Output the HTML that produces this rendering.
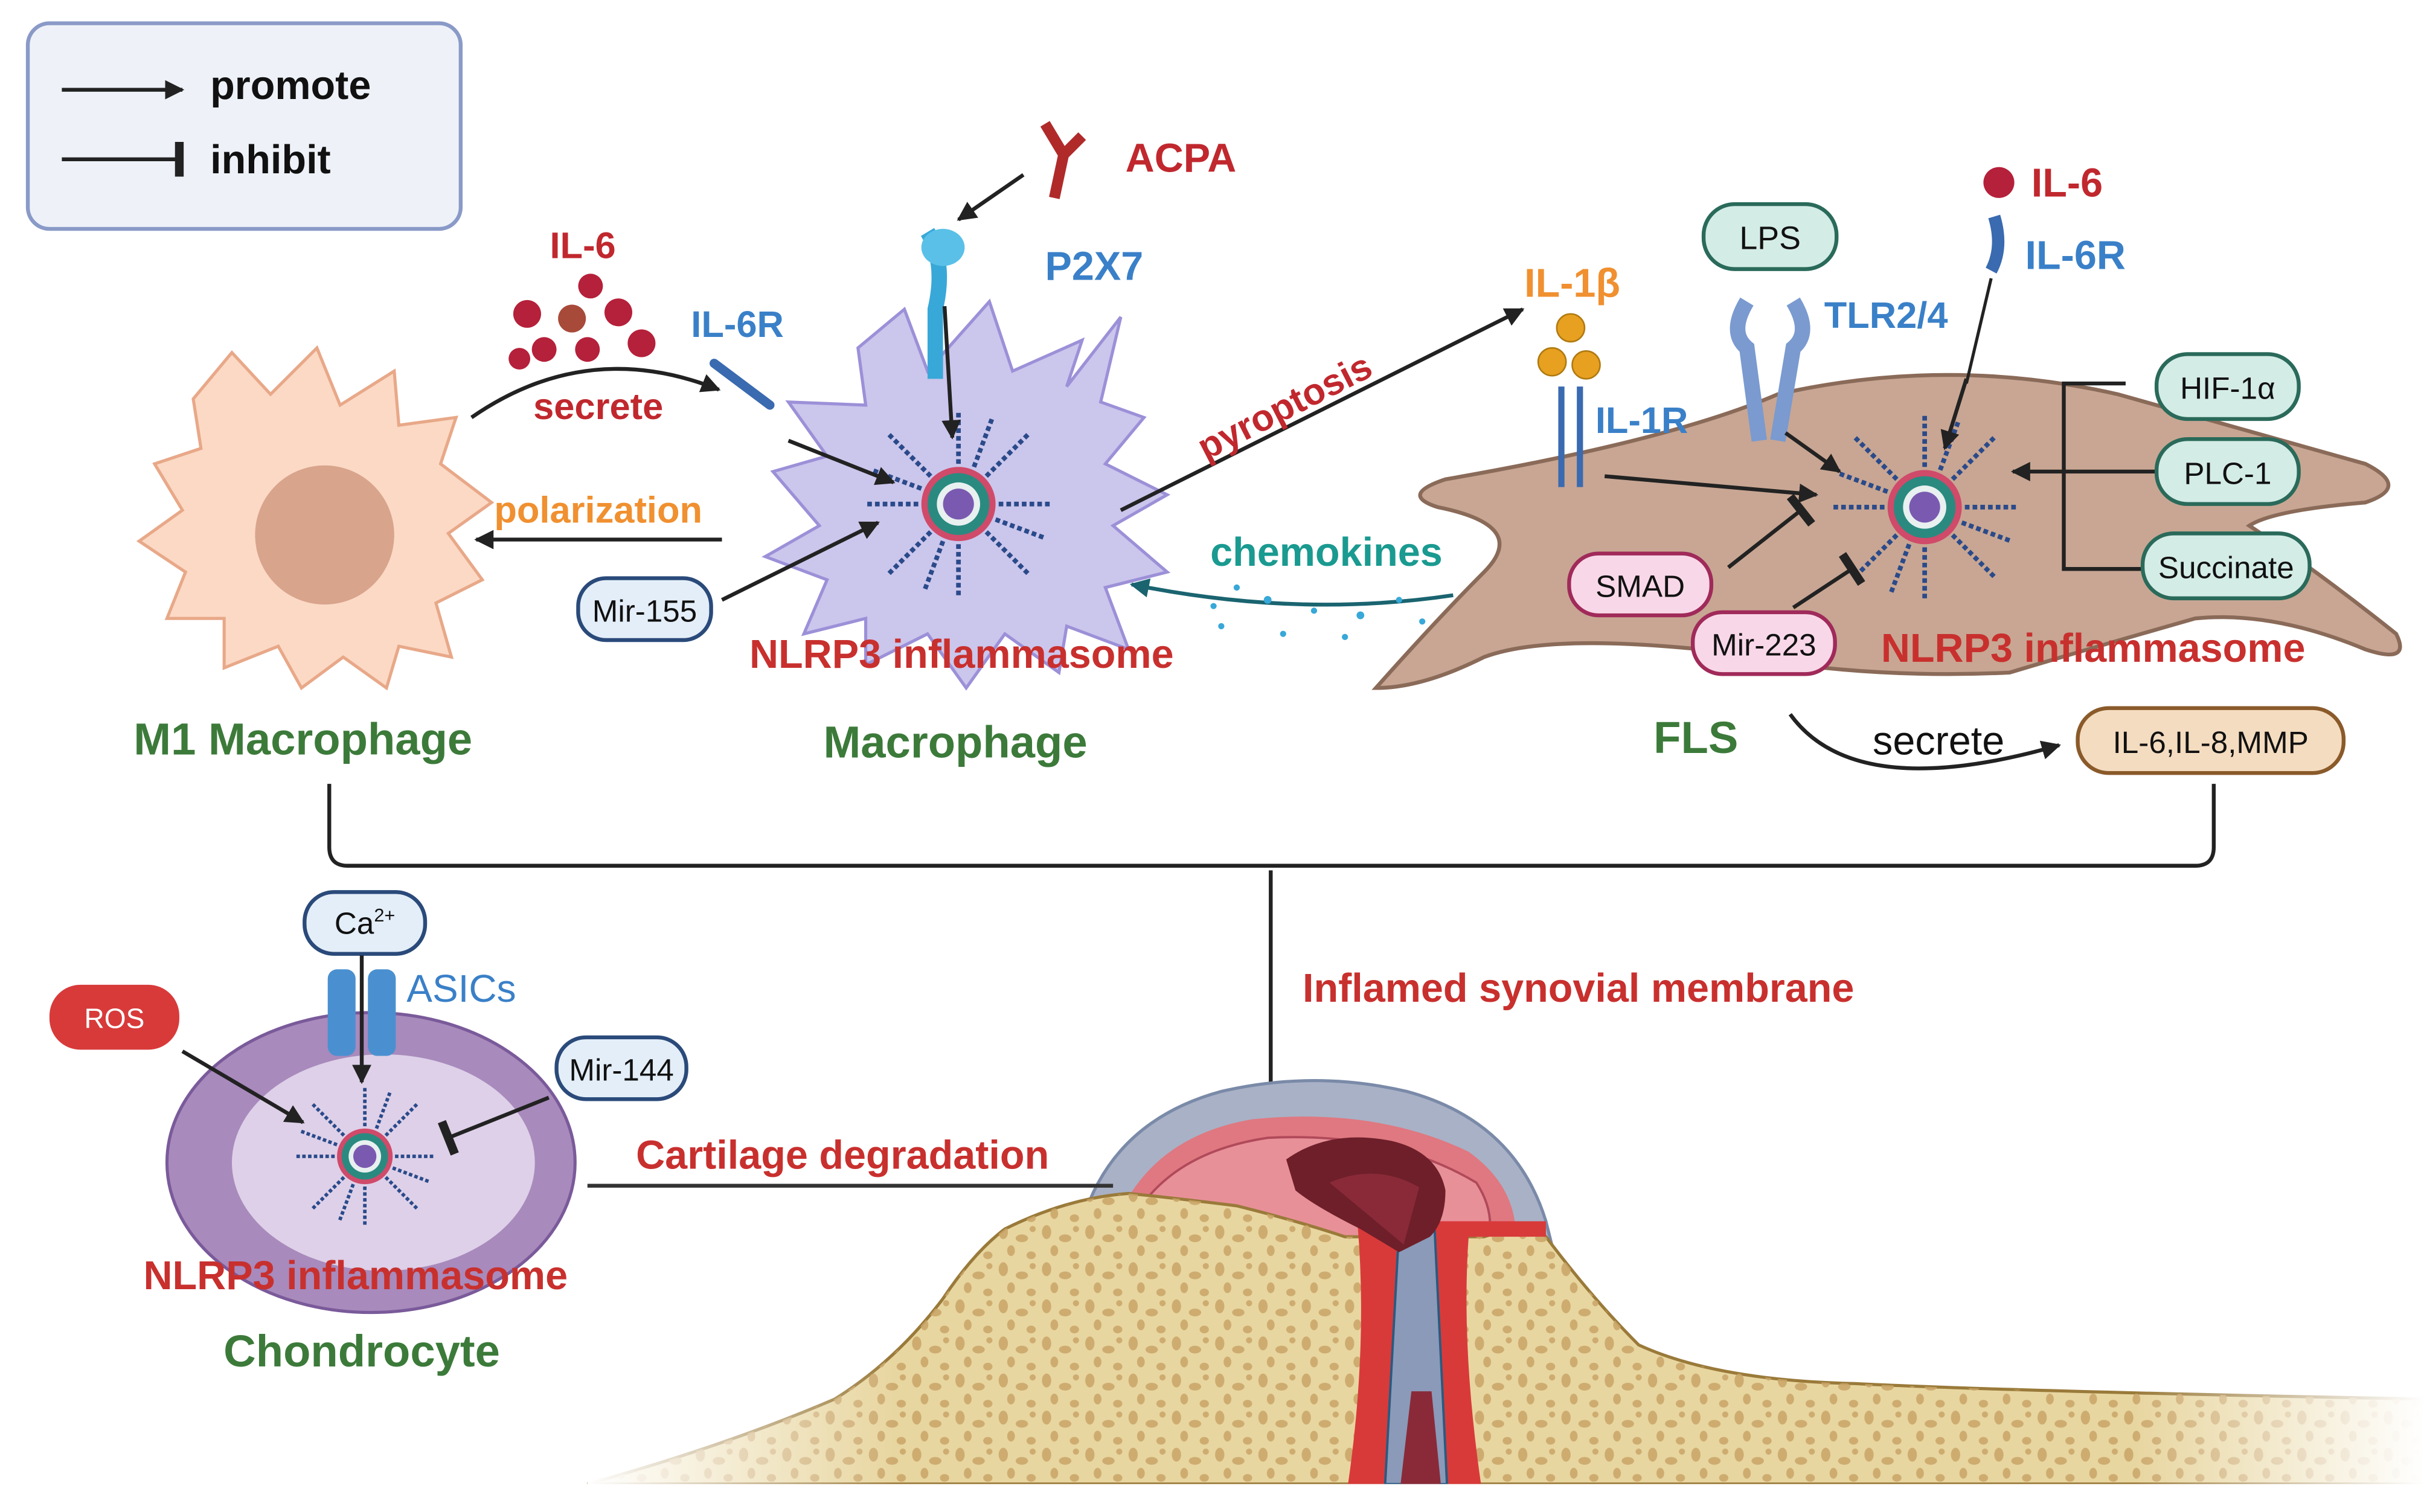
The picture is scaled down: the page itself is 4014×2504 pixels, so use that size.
<!DOCTYPE html>
<html><head><meta charset="utf-8"><style>
html,body{margin:0;padding:0;background:#fff}
svg{display:block}
text{font-family:"Liberation Sans",sans-serif;font-weight:bold}
</style></head><body>
<svg width="4014" height="2504" viewBox="0 0 1568 978" xmlns="http://www.w3.org/2000/svg">
<defs>
<marker id="ar" viewBox="0 0 10 10" refX="9" refY="5" markerWidth="5" markerHeight="5" orient="auto"><path d="M0,0L10,5L0,10z" fill="#222"/></marker>
<marker id="art" viewBox="0 0 10 10" refX="9" refY="5" markerWidth="5" markerHeight="5" orient="auto"><path d="M0,0L10,5L0,10z" fill="#1a6470"/></marker>
<marker id="inh" viewBox="0 0 4 12" refX="2" refY="6" markerWidth="3" markerHeight="9" orient="auto"><path d="M2,0L2,12" stroke="#222" stroke-width="3"/></marker>
<pattern id="pores" width="28" height="24" patternUnits="userSpaceOnUse">
<ellipse cx="5" cy="5" rx="3" ry="4.5" fill="#c9a468"/><ellipse cx="17" cy="9" rx="4" ry="2.5" fill="#c9a468"/><ellipse cx="10" cy="17" rx="2.5" ry="3.5" fill="#c9a468"/><ellipse cx="23" cy="20" rx="3" ry="2.5" fill="#c9a468"/><ellipse cx="24" cy="3" rx="2" ry="2" fill="#c9a468"/>
</pattern>
<linearGradient id="fadeR" x1="0" x2="1" y1="0" y2="0"><stop offset="0" stop-color="#fff" stop-opacity="0"/><stop offset="1" stop-color="#fff" stop-opacity="1"/></linearGradient>
<linearGradient id="fadeL" x1="0" x2="1" y1="0" y2="0"><stop offset="0" stop-color="#fff" stop-opacity="1"/><stop offset="1" stop-color="#fff" stop-opacity="0"/></linearGradient>
<g id="infl">
<circle r="22" fill="#2a8a80" stroke="#d04a6a" stroke-width="4"/>
<circle r="14" fill="#e8f0f0"/>
<circle r="10" fill="#7a5ab0"/>
<g stroke="#2a4a8a" stroke-width="3" stroke-dasharray="3 2">
<path d="M0,-26L0,-60M0,26L0,60M-26,0L-60,0M26,0L60,0M18,18L45,45M-18,18L-45,45M18,-18L45,-45M-18,-18L-45,-45M10,-24L22,-56M-10,24L-22,56M24,10L56,22M-24,-10L-56,-22"/>
</g>
</g>
</defs>
<!-- legend -->
<rect x="18" y="15" width="280" height="133" rx="14" fill="#eef2f8" stroke="#8a9ac8" stroke-width="2.5"/>
<line x1="40" y1="58" x2="118" y2="58" stroke="#222" stroke-width="2.5" marker-end="url(#ar)"/>
<line x1="40" y1="103" x2="116" y2="103" stroke="#222" stroke-width="2.5" marker-end="url(#inh)"/>
<text x="136" y="64" font-size="26" fill="#111">promote</text>
<text x="136" y="112" font-size="26" fill="#111">inhibit</text>

<!-- M1 macrophage -->
<path d="M150,228 L175,255 L205,225 L220,262 L255,240 L258,275 L295,270 L285,300 L318,325 L290,345 L312,375 L282,390 L292,425 L258,418 L250,445 L222,425 L195,445 L180,418 L145,432 L145,400 L108,400 L120,370 L90,350 L118,330 L100,300 L130,290 L125,258 Z" fill="#fbd9c5" stroke="#e8a888" stroke-width="2"/>
<circle cx="210" cy="346" r="45" fill="#d9a48c"/>
<text x="196" y="488" font-size="29" fill="#3c7a3a" text-anchor="middle">M1 Macrophage</text>

<!-- IL-6 secrete -->
<text x="377" y="167" font-size="24" fill="#c0282e" text-anchor="middle">IL-6</text>
<g fill="#b5203a"><circle cx="341" cy="203" r="9"/><circle cx="370" cy="206" r="9" fill="#a84a3a"/><circle cx="400" cy="202" r="9"/><circle cx="382" cy="185" r="8"/><circle cx="352" cy="226" r="8"/><circle cx="380" cy="226" r="8"/><circle cx="415" cy="222" r="9"/><circle cx="336" cy="232" r="7"/></g>
<path d="M305,270 Q380,218 465,252" fill="none" stroke="#222" stroke-width="2.5" marker-end="url(#ar)"/>
<text x="387" y="271" font-size="24" fill="#c0282e" text-anchor="middle">secrete</text>
<text x="447" y="218" font-size="24" fill="#3a80c8">IL-6R</text>
<path d="M462,235 L498,262" stroke="#3a6ab0" stroke-width="6" stroke-linecap="round"/>
<line x1="467" y1="349" x2="308" y2="349" stroke="#222" stroke-width="2.5" marker-end="url(#ar)"/>
<text x="387" y="338" font-size="24" fill="#f09030" text-anchor="middle">polarization</text>

<!-- Macrophage -->
<path d="M585,200 L600,240 L640,195 L655,240 L700,220 L690,250 L725,205 L712,260 L740,270 L715,300 L755,320 L720,340 L755,370 L715,380 L730,420 L690,405 L685,435 L650,410 L625,445 L600,410 L560,430 L560,400 L520,410 L535,375 L495,360 L530,340 L500,305 L535,295 L510,260 L560,262 L555,225 Z" fill="#cbc6ec" stroke="#9c90d8" stroke-width="2"/>
<use href="#infl" x="620" y="326"/>
<text x="622" y="432" font-size="26" fill="#c8302e" text-anchor="middle">NLRP3 inflammasome</text>
<text x="618" y="490" font-size="29" fill="#3c7a3a" text-anchor="middle">Macrophage</text>
<path d="M600,150 Q612,170 605,200 L605,245" stroke="#38a8d8" stroke-width="10" fill="none"/>
<ellipse cx="610" cy="160" rx="14" ry="12" fill="#5ac0e8"/>
<text x="676" y="181" font-size="26" fill="#3a80c8">P2X7</text>
<path d="M676,80 L688,100 L682,128 M700,88 L688,100" stroke="#b02a2a" stroke-width="7" fill="none"/>
<text x="728" y="111" font-size="26" fill="#c0282e">ACPA</text>
<line x1="662" y1="113" x2="620" y2="142" stroke="#222" stroke-width="2.5" marker-end="url(#ar)"/>
<line x1="611" y1="198" x2="616" y2="283" stroke="#222" stroke-width="2.5" marker-end="url(#ar)"/>
<line x1="510" y1="285" x2="578" y2="312" stroke="#222" stroke-width="2.5" marker-end="url(#ar)"/>
<rect x="374" y="374" width="86" height="40" rx="18" fill="#e4eef8" stroke="#2a4a7a" stroke-width="2.5"/>
<text x="417" y="402" font-size="20" fill="#111" text-anchor="middle" style="font-weight:normal">Mir-155</text>
<line x1="467" y1="388" x2="568" y2="338" stroke="#222" stroke-width="2.5" marker-end="url(#ar)"/>

<!-- pyroptosis -->
<line x1="725" y1="330" x2="985" y2="200" stroke="#222" stroke-width="2.5" marker-end="url(#ar)"/>
<text x="0" y="0" font-size="24" fill="#c0282e" transform="translate(780,298) rotate(-27)">pyroptosis</text>
<text x="858" y="366" font-size="26" fill="#1a9a90" text-anchor="middle">chemokines</text>
<path d="M940,385 Q840,400 732,378" fill="none" stroke="#1a6470" stroke-width="2.5" marker-end="url(#art)"/>
<g fill="#38a8d8"><circle cx="800" cy="380" r="2"/><circle cx="820" cy="388" r="2.5"/><circle cx="850" cy="395" r="2"/><circle cx="880" cy="398" r="2.5"/><circle cx="905" cy="388" r="2"/><circle cx="790" cy="405" r="2"/><circle cx="830" cy="410" r="2"/><circle cx="870" cy="412" r="2"/><circle cx="920" cy="402" r="2"/><circle cx="785" cy="392" r="2"/></g>

<!-- FLS -->
<path d="M890,445 Q930,400 960,370 Q990,340 930,328 Q905,320 935,310 Q1080,285 1150,255 Q1260,230 1370,255 Q1440,275 1530,300 Q1560,315 1530,325 Q1470,330 1455,340 Q1500,370 1550,410 Q1560,430 1530,420 Q1470,395 1420,400 Q1350,420 1300,435 Q1200,440 1100,420 Q1000,410 960,425 Q920,445 890,445 Z" fill="#c8a693" stroke="#8a6a58" stroke-width="2.5"/>
<use href="#infl" x="1245" y="328"/>
<text x="1354" y="428" font-size="26" fill="#c8302e" text-anchor="middle">NLRP3 inflammasome</text>
<text x="1097" y="487" font-size="29" fill="#3c7a3a" text-anchor="middle">FLS</text>
<text x="986" y="192" font-size="26" fill="#f09030">IL-1β</text>
<g fill="#e8a020" stroke="#b07a10"><circle cx="1016" cy="212" r="9"/><circle cx="1004" cy="234" r="9"/><circle cx="1026" cy="236" r="9"/></g>
<path d="M1010,250 L1010,315 M1022,250 L1022,315" stroke="#3a6ab0" stroke-width="4"/>
<text x="1032" y="280" font-size="24" fill="#3a80c8">IL-1R</text>
<line x1="1038" y1="308" x2="1175" y2="320" stroke="#222" stroke-width="2.5" marker-end="url(#ar)"/>
<rect x="1102" y="132" width="86" height="42" rx="20" fill="#d4ece6" stroke="#2a6a5a" stroke-width="2.5"/>
<text x="1145" y="161" font-size="21" fill="#111" text-anchor="middle" style="font-weight:normal">LPS</text>
<path d="M1130,195 Q1118,215 1130,225 L1138,285 M1160,195 Q1172,215 1160,225 L1150,285" stroke="#7a9ad0" stroke-width="10" fill="none"/>
<text x="1180" y="212" font-size="24" fill="#3a80c8">TLR2/4</text>
<line x1="1155" y1="280" x2="1190" y2="305" stroke="#222" stroke-width="2.5" marker-end="url(#ar)"/>
<circle cx="1293" cy="118" r="10" fill="#b5203a"/>
<text x="1314" y="127" font-size="26" fill="#c0282e">IL-6</text>
<path d="M1290,140 Q1296,160 1288,175" stroke="#3a6ab0" stroke-width="8" fill="none"/>
<line x1="1288" y1="180" x2="1272" y2="248" stroke="#222" stroke-width="2"/>
<text x="1310" y="174" font-size="26" fill="#3a80c8">IL-6R</text>
<line x1="1272" y1="245" x2="1258" y2="290" stroke="#222" stroke-width="2.5" marker-end="url(#ar)"/>
<path d="M1375,248 L1335,248 L1335,368 L1390,368" stroke="#222" stroke-width="2.5" fill="none"/>
<line x1="1395" y1="305" x2="1302" y2="305" stroke="#222" stroke-width="2.5" marker-end="url(#ar)"/>
<rect x="1395" y="229" width="92" height="42" rx="20" fill="#d4ece6" stroke="#2a6a5a" stroke-width="2.5"/>
<text x="1441" y="258" font-size="20" fill="#111" text-anchor="middle" style="font-weight:normal">HIF-1α</text>
<rect x="1395" y="284" width="92" height="42" rx="20" fill="#d4ece6" stroke="#2a6a5a" stroke-width="2.5"/>
<text x="1441" y="313" font-size="20" fill="#111" text-anchor="middle" style="font-weight:normal">PLC-1</text>
<rect x="1386" y="345" width="108" height="42" rx="20" fill="#d4ece6" stroke="#2a6a5a" stroke-width="2.5"/>
<text x="1440" y="374" font-size="20" fill="#111" text-anchor="middle" style="font-weight:normal">Succinate</text>
<rect x="1015" y="358" width="92" height="40" rx="19" fill="#f8d8e8" stroke="#a02a5a" stroke-width="2.5"/>
<text x="1061" y="386" font-size="20" fill="#111" text-anchor="middle" style="font-weight:normal">SMAD</text>
<line x1="1118" y1="367" x2="1165" y2="330" stroke="#222" stroke-width="2.5" marker-end="url(#inh)"/>
<rect x="1095" y="396" width="92" height="40" rx="19" fill="#f8d8e8" stroke="#a02a5a" stroke-width="2.5"/>
<text x="1141" y="424" font-size="20" fill="#111" text-anchor="middle" style="font-weight:normal">Mir-223</text>
<line x1="1160" y1="393" x2="1198" y2="368" stroke="#222" stroke-width="2.5" marker-end="url(#inh)"/>
<path d="M1158,462 Q1200,520 1332,482" fill="none" stroke="#222" stroke-width="2.5" marker-end="url(#ar)"/>
<text x="1254" y="488" font-size="26" fill="#111" text-anchor="middle" style="font-weight:normal">secrete</text>
<rect x="1344" y="458" width="172" height="42" rx="20" fill="#f4dcc0" stroke="#8a5a2a" stroke-width="2.5"/>
<text x="1430" y="487" font-size="20" fill="#111" text-anchor="middle" style="font-weight:normal">IL-6,IL-8,MMP</text>

<!-- bracket -->
<path d="M213,507 L213,548 Q213,560 225,560 L1420,560 Q1432,560 1432,548 L1432,507 M822,563 L822,728" fill="none" stroke="#222" stroke-width="2.5"/>

<!-- joint -->
<path d="M700,790 Q720,725 790,706 Q850,692 910,706 Q980,725 1000,790 L1010,830 L700,830 Z" fill="#a9b1c6" stroke="#7a8aa8" stroke-width="2"/>
<path d="M722,790 Q745,735 810,724 Q890,716 950,745 Q985,770 980,810 L725,810 Z" fill="#df7880"/>
<path d="M735,785 Q760,745 820,736 Q900,732 955,765 Q968,785 962,805 L738,805 Z" fill="#e89098" stroke="#b04a5a" stroke-width="1.5"/>
<path d="M380,960 Q470,935 540,905 Q580,880 610,840 Q630,810 650,795 Q690,775 730,772 Q760,775 800,780 Q840,790 870,800 L960,800 Q990,790 1000,800 Q1030,840 1060,870 Q1110,893 1200,895 Q1300,900 1568,905 L1568,960 Z" fill="#e8d6a0" stroke="#9a7a3a" stroke-width="2"/>
<path d="M380,960 Q470,935 540,905 Q580,880 610,840 Q630,810 650,795 Q690,775 730,772 Q760,775 800,780 Q840,790 870,800 L960,800 Q990,790 1000,800 Q1030,840 1060,870 Q1110,893 1200,895 Q1300,900 1568,905 L1568,960 Z" fill="url(#pores)" opacity="0.85"/>
<path d="M878,790 Q885,870 872,960 L958,960 Q945,870 950,800 L1000,800 L1000,790 Z" fill="#d83a3a"/>
<path d="M905,795 L896,960 L936,960 L928,795 Z" fill="#8a9ab8" stroke="#2a5a80" stroke-width="1.5"/>
<path d="M913,900 L906,960 L932,960 L926,900 Z" fill="#8a2a38"/>
<path d="M832,750 Q860,730 900,738 Q930,745 935,770 Q935,790 925,800 L905,810 L880,795 Q850,780 838,770 Z" fill="#6e1f2a"/>
<path d="M860,765 Q890,752 918,768 L908,805 Z" fill="#8a2a38"/>
<rect x="380" y="880" width="200" height="85" fill="url(#fadeL)"/>
<rect x="1380" y="880" width="188" height="85" fill="url(#fadeR)"/>
<rect x="370" y="960" width="1198" height="18" fill="#fff"/>
<text x="1021" y="648" font-size="26" fill="#c8302e" text-anchor="middle">Inflamed synovial membrane</text>
<text x="545" y="756" font-size="26" fill="#c8302e" text-anchor="middle">Cartilage degradation</text>
<line x1="380" y1="767" x2="720" y2="767" stroke="#333" stroke-width="2.5"/>

<!-- chondrocyte -->
<ellipse cx="240" cy="752" rx="132" ry="97" fill="#a88abc" stroke="#7a5a9a" stroke-width="2"/>
<ellipse cx="248" cy="752" rx="98" ry="70" fill="#ddd0e8"/>
<use href="#infl" x="236" y="748" transform="translate(236,748) scale(0.75) translate(-236,-748)"/>
<text x="230" y="834" font-size="26" fill="#c8302e" text-anchor="middle">NLRP3 inflammasome</text>
<text x="234" y="884" font-size="29" fill="#3c7a3a" text-anchor="middle">Chondrocyte</text>
<rect x="212" y="627" width="18" height="56" rx="6" fill="#4a90d0"/>
<rect x="238" y="627" width="18" height="56" rx="6" fill="#4a90d0"/>
<text x="263" y="648" font-size="25" fill="#3a80c8" style="font-weight:normal">ASICs</text>
<rect x="197" y="577" width="78" height="40" rx="19" fill="#e4eef8" stroke="#2a4a7a" stroke-width="2.5"/>
<text x="236" y="604" font-size="20" fill="#111" text-anchor="middle" style="font-weight:normal">Ca<tspan font-size="12" dy="-8">2+</tspan></text>
<line x1="234" y1="618" x2="234" y2="700" stroke="#222" stroke-width="2.5" marker-end="url(#ar)"/>
<rect x="32" y="637" width="84" height="42" rx="20" fill="#d83a3a"/>
<text x="74" y="665" font-size="18" fill="#fff" text-anchor="middle" style="font-weight:normal">ROS</text>
<line x1="118" y1="680" x2="196" y2="726" stroke="#222" stroke-width="2.5" marker-end="url(#ar)"/>
<rect x="360" y="671" width="84" height="40" rx="19" fill="#e4eef8" stroke="#2a4a7a" stroke-width="2.5"/>
<text x="402" y="699" font-size="20" fill="#111" text-anchor="middle" style="font-weight:normal">Mir-144</text>
<line x1="355" y1="710" x2="290" y2="736" stroke="#222" stroke-width="2.5" marker-end="url(#inh)"/>
</svg>
</body></html>
